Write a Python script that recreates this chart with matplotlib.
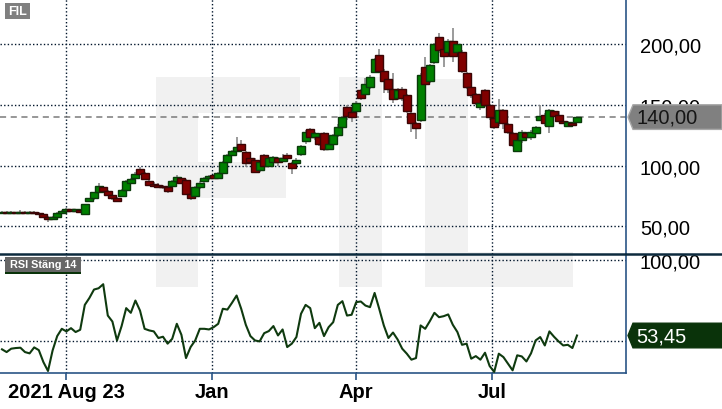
import numpy as np
import matplotlib
matplotlib.use("Agg")
import matplotlib.pyplot as plt
from matplotlib.patches import Rectangle, Polygon
from matplotlib.lines import Line2D

plt.rcParams["font.family"] = ["Liberation Sans", "DejaVu Sans"]

# data (one candle ~ two trading days)
opens = [61, 62, 61, 61.5, 61, 62, 61, 61.5, 61, 60,
         58, 56, 58, 61, 63, 63.5, 63, 63, 60.5, 70.5,
         73, 78, 82, 79, 76, 73, 75, 80, 86, 90,
         97, 94, 87, 85, 83.5, 83, 82.5, 83, 87, 90,
         88, 77, 75, 82, 87, 90, 92, 90, 94, 103,
         109, 112, 118, 111, 106, 105, 96, 109, 100, 103,
         106, 104, 109, 102, 102, 110, 120, 130, 124, 124,
         127, 114, 118, 125, 132, 148, 144, 145, 162, 159,
         165, 177, 191, 178, 171, 163, 156, 163, 158, 143,
         135, 138, 181, 170, 185, 206, 196, 194, 203, 194,
         194, 176, 165, 159, 148, 162, 150, 139, 136, 146,
         134, 127, 112, 121, 127, 124, 127, 138, 142, 133,
         145, 142, 137, 133, 135, 136]
closes = [62, 61, 61.5, 61, 62, 61, 61.5, 61, 60, 58,
          56, 58, 61, 63, 63.5, 63, 63.5, 62.5, 68, 73,
          78, 83, 79, 76, 73, 71, 80, 87, 89, 93,
          93, 89, 84, 83, 83, 82.5, 79, 87, 91, 86,
          77, 73, 82, 86, 90, 91, 90, 94, 103, 109,
          112, 115, 113, 102, 103, 95, 103, 100, 106, 107,
          103, 106, 106, 98, 105, 116, 128, 124, 127, 118,
          114, 118, 125, 132, 140, 141, 140, 152, 156, 167,
          173, 188, 178, 170, 163, 155, 162, 156, 145, 135,
          131, 175, 167, 183, 200, 195, 190, 203, 190, 200,
          178, 165, 158, 152, 152, 150, 140, 132, 146, 135,
          128, 117, 121, 128, 124, 128, 132, 141, 135, 146,
          141, 137, 135, 136, 134, 140]
highs = [63, 63, 62.5, 62, 63.5, 62.5, 62.5, 63, 61.5, 60.5,
         58.5, 58.5, 61.5, 63.5, 65, 64, 64.5, 64.5, 68.5, 73.5,
         78.5, 86, 83, 80, 78, 74, 81, 88, 90, 95,
         98.5, 95, 88, 86.5, 85.5, 84, 83, 88, 92, 91,
         89, 78, 83.5, 87, 91, 92, 93, 95, 104, 110,
         113, 123.5, 121, 112, 107, 106, 104, 110, 107, 108,
         107.5, 110, 110.5, 103, 106, 117, 129, 131, 128, 125,
         128, 120, 126, 134, 141, 150, 145, 153, 163, 172,
         175, 189, 196, 180, 173, 176, 164, 165, 159, 144,
         136, 176, 189.5, 184, 201, 209.5, 197, 204, 213, 201,
         195, 177, 166, 160, 154, 163, 151, 140, 155, 147,
         135, 128, 122, 129, 128, 129, 133, 150, 143, 147,
         146, 145, 138, 137, 136, 141]
lows = [60, 60.5, 60, 60.5, 60.5, 60, 60.5, 60.5, 59, 57,
        53.5, 55, 57.5, 60, 61, 62, 62, 61.5, 60, 70,
        72, 77.5, 78, 75, 72, 70, 74, 78, 85, 89,
        92, 88, 83, 82, 82, 81, 77.5, 82, 86, 85,
        76, 71.5, 74, 81, 86, 88.5, 89, 89, 93, 102,
        108, 111, 112, 98.5, 101, 94, 95, 97, 99, 101,
        100, 103, 104, 93.5, 97, 108, 118, 122, 121, 116,
        112, 113, 116, 124, 130, 138, 136, 143, 154, 158,
        163, 176, 176, 160, 160, 152, 154, 153, 143, 128,
        122, 136, 165, 168, 184, 193, 181, 192, 185, 192,
        176, 163, 156, 150, 146, 148, 138, 130, 133, 130,
        126, 115, 111, 119, 121, 121, 126, 137, 133, 127,
        140, 136, 134, 132, 131.5, 135]
rsi = [44.9, 43.2, 45.3, 45.7, 45.9, 43.2, 42.4, 46.1, 44.4, 37.0,
       31.5, 44.2, 53.1, 57.6, 56.0, 58.0, 55.6, 57.0, 72.4, 76.7,
       81.9, 82.7, 85.2, 65.8, 62.1, 50.4, 59.3, 70.4, 67.5, 75.1,
       68.9, 57.6, 56.6, 56.0, 51.9, 52.7, 48.4, 51.4, 60.7, 53.9,
       39.5, 46.3, 50.4, 57.6, 57.6, 57.2, 58.6, 60.7, 70.0, 69.5,
       73.7, 78.2, 70.0, 60.1, 53.1, 50.4, 49.8, 54.9, 56.2, 59.3,
       53.5, 57.2, 46.3, 48.4, 52.5, 66.9, 72.4, 70.4, 58.0, 61.3,
       53.1, 58.6, 61.7, 72.4, 74.7, 65.8, 66.3, 74.1, 74.5, 72.0,
       71.0, 79.8, 70.0, 59.7, 51.9, 55.3, 51.0, 45.3, 42.2, 38.5,
       39.5, 59.7, 57.6, 62.3, 67.5, 64.8, 65.4, 66.5, 60.1, 55.6,
       47.7, 48.4, 39.1, 40.7, 38.5, 42.8, 34.6, 30.9, 42.2, 40.1,
       36.0, 31.9, 41.2, 40.5, 37.4, 42.4, 50.4, 52.5, 47.3, 56.0,
       52.7, 49.8, 47.3, 47.7, 45.7, 53.45]
price_ticks = [50, 100, 150, 200]
date_ticks = [14.0, 45.7, 76.85, 106.6]
date_labels = ["2021 Aug 23", "Jan", "Apr", "Jul"]
ticker = "FIL"
rsi_title = "RSI Stäng 14"

W, H = 722, 410
NAVY = "#2a5586"
GRID = "#00152b"


def fmt(v):
    return f"{v:.2f}".replace(".", ",")


def px_rect(x0, y0, x1, y1):
    # pixel box (top-left origin) -> figure fraction [l, b, w, h]
    return [x0 / W, 1 - y1 / H, (x1 - x0) / W, (y1 - y0) / H]


fig = plt.figure(figsize=(W / 100, H / 100), dpi=100)

# big ticker watermark behind both panels
for box in [(156, 78, 198, 288), (156, 78, 300, 114), (198, 163, 286, 199),
            (339, 78, 382, 288),
            (425, 80, 468, 288), (425, 253, 573, 288)]:
    l, b, w, h = px_rect(*box)
    fig.patches.append(Rectangle((l, b), w, h, transform=fig.transFigure,
                                 facecolor="#f1f1f1", edgecolor="none", zorder=-1))

ax = fig.add_axes(px_rect(0, 0, 626, 255))
ax2 = fig.add_axes(px_rect(0, 255, 626, 374), sharex=ax)
for a in (ax, ax2):
    a.set_facecolor("none")
    for s in ("left", "top", "bottom"):
        a.spines[s].set_visible(False)
    a.spines["right"].set_color(NAVY)
    a.spines["right"].set_linewidth(1.2)
    a.grid(True, linestyle=(0, (1, 1.6)), color=GRID, linewidth=1.0)
    a.set_axisbelow(True)
    a.yaxis.tick_right()
    a.tick_params(axis="y", length=0, pad=10, labelsize=14.5)
ax2.spines["bottom"].set_visible(True)
ax2.spines["bottom"].set_color(NAVY)
ax2.spines["bottom"].set_linewidth(1.2)

# candles
x = np.arange(len(closes))
o = np.array(opens, dtype=float)
c = np.array(closes, dtype=float)
up = c >= o
body_h = np.maximum(np.abs(c - o), 1.3)
body_lo = np.minimum(o, c) - (body_h - np.abs(c - o)) / 2
ax.vlines(x, lows, highs, color="#8a8a8a", linewidth=1.2, zorder=2)
ax.bar(x, body_h, bottom=body_lo, width=1.7,
       color=np.where(up, "#008000", "#800000"),
       edgecolor=np.where(up, "#0a3a0a", "#3a0505"), linewidth=1.0, zorder=3)
ax.axhline(closes[-1], color="#7a7a7a", linestyle=(0, (4, 3)), linewidth=1.1, zorder=1)

ax.set_xlim(-0.435, 135.65)
ax.set_ylim(27.2, 237.3)
ax.set_yticks(price_ticks, [fmt(v) for v in price_ticks])
ax.tick_params(axis="x", length=0, labelbottom=False)

# RSI
ax2.plot(x, rsi, color="#0f3a0f", linewidth=1.5, zorder=3)
ax2.set_ylim(30.25, 103.9)
ax2.set_yticks([50, 100], ["", fmt(100)])
ax2.set_xticks(date_ticks, date_labels)
ax2.tick_params(axis="x", direction="out", length=5, width=1.2, color=NAVY,
                pad=1.5, labelsize=14.5)
for t in ax2.get_xticklabels():
    t.set_fontweight("bold")

# panel separator
fig.lines.append(Line2D([0, 1], [1 - 255 / H] * 2, transform=fig.transFigure,
                        color="#0d2b3e", linewidth=1.8, zorder=11))


def value_tag(axis, value, face, edge, tcolor):
    yf = axis.transData.transform((0, value))[1] / fig.bbox.height
    hh = 12.3 / H
    pts = [(628 / W, yf), (633 / W, yf + hh), (1, yf + hh), (1, yf - hh), (633 / W, yf - hh)]
    fig.patches.append(Polygon(pts, closed=True, transform=fig.transFigure,
                               facecolor=face, edgecolor=edge, linewidth=1, zorder=12))
    fig.text(636 / W, yf, fmt(value), color=tcolor, fontsize=14.5,
             ha="left", va="center", zorder=13)


value_tag(ax, closes[-1], "#808080", "#a8a8a8", "#151515")
value_tag(ax2, rsi[-1], "#0a330a", "#0a330a", "white")

# panel title boxes
l, b, w, h = px_rect(5, 4, 30, 20)
fig.patches.append(Rectangle((l, b), w, h, transform=fig.transFigure,
                             facecolor="#808080", edgecolor="none", zorder=12))
fig.text(17.5 / W, 1 - 12.3 / H, ticker, color="white", fontsize=9, fontweight="bold",
         ha="center", va="center", zorder=13)
l, b, w, h = px_rect(5, 258, 81, 273)
fig.patches.append(Rectangle((l, b), w, h, transform=fig.transFigure,
                             facecolor="#666666", edgecolor="none", zorder=12))
l, b, w, h = px_rect(5, 272.5, 81, 275)
fig.patches.append(Rectangle((l, b), w, h, transform=fig.transFigure,
                             facecolor="#0a330a", edgecolor="none", zorder=12))
fig.text(43 / W, 1 - 265.5 / H, rsi_title, color="white", fontsize=7.8, fontweight="bold",
         ha="center", va="center", zorder=13)

fig.savefig("out.png", dpi=100)
